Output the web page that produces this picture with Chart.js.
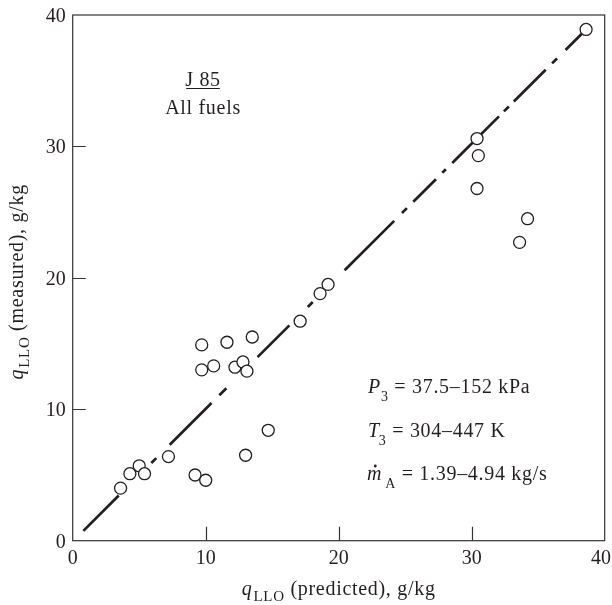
<!DOCTYPE html>
<html><head><meta charset="utf-8">
<script src="https://cdn.jsdelivr.net/npm/chart.js@4.4.1/dist/chart.umd.min.js"></script>
<style>html,body{margin:0;padding:0;background:#fff;}#wrap{width:612px;height:605px;}</style>
</head><body><div id="wrap"><canvas id="c" width="612" height="605"></canvas></div>
<script>
// ---- data ----
const predicted = [3.6, 4.3, 5.0, 5.4, 7.2, 9.2, 10.0, 13.0, 14.7, 9.7, 11.6, 13.5, 9.7, 10.6, 12.2, 12.8, 13.1, 17.1, 18.6, 19.2, 30.4, 30.5, 30.4, 34.2, 33.6, 38.6];
const measured  = [4.0, 5.1, 5.7, 5.1, 6.4, 5.0, 4.6, 6.5, 8.4, 14.9, 15.1, 15.5, 13.0, 13.3, 13.2, 13.6, 12.9, 16.7, 18.8, 19.5, 30.6, 29.3, 26.8, 24.5, 22.7, 38.9];
const parityX = [0.8, 38.6];
const parityY = [0.75, 38.9];
const xTicks = [0, 10, 20, 30, 40];
const yTicks = [0, 10, 20, 30, 40];

// style: irregular dash-dot rhythm of the parity line (on/off lengths, px)
const PARITY_DASH = [50, 46, 7, 19, 59, 11, 10, 44, 45, 26, 7, 45, 70, 11, 7, 9, 32, 9, 5, 9, 66, 7, 7, 7, 45, 9, 7, 12, 200, 10];

const INK = '#231f20';
const SERIF = '"Liberation Serif", "Times New Roman", serif';

function font(ctx, size, italic) {
  ctx.font = (italic ? 'italic ' : '') + size + 'px ' + SERIF;
}
function runWidth(ctx, parts, ls) {
  let w = 0;
  for (const p of parts) {
    font(ctx, p.s, p.i); ctx.letterSpacing = ls + 'px';
    w += ctx.measureText(p.t).width + (p.dx || 0);
  }
  return w;
}
function drawRuns(ctx, x, y, parts, ls) {
  let cx = x;
  const pos = [];
  for (const p of parts) {
    font(ctx, p.s, p.i); ctx.letterSpacing = ls + 'px';
    cx += (p.dx || 0);
    ctx.fillText(p.t, cx, y + (p.dy || 0));
    const w = ctx.measureText(p.t).width;
    pos.push([cx, w]);
    cx += w;
  }
  return pos;
}

const decor = {
  id: 'decor',
  beforeDatasetsDraw(chart) {
    const {ctx, chartArea: a, scales: {x, y}} = chart;
    ctx.save();
    ctx.strokeStyle = '#333';
    ctx.lineWidth = 1.2;
    ctx.strokeRect(a.left, a.top, a.right - a.left, a.bottom - a.top);
    ctx.beginPath();
    for (const v of xTicks) {
      if (v === x.min || v === x.max) continue;
      const px = Math.round(x.getPixelForValue(v)) + 0.5;
      ctx.moveTo(px, a.bottom); ctx.lineTo(px, a.bottom - 14);
    }
    for (const v of yTicks) {
      if (v === y.min || v === y.max) continue;
      const py = Math.round(y.getPixelForValue(v)) + 0.5;
      ctx.moveTo(a.left, py); ctx.lineTo(a.left + 13, py);
    }
    ctx.stroke();
    ctx.restore();
  },
  afterDatasetsDraw(chart) {
    const {ctx, chartArea: a, scales: {x, y}} = chart;
    ctx.save();
    ctx.fillStyle = INK;
    font(ctx, 20, false);
    ctx.letterSpacing = '0px';
    ctx.textBaseline = 'alphabetic';
    for (const v of xTicks) {
      const px = x.getPixelForValue(v);
      const t = String(v);
      const w = ctx.measureText(t).width;
      let left = px - w / 2;
      if (left + w > chart.width - 1) left = chart.width - 1 - w;
      ctx.textAlign = 'left';
      ctx.fillText(t, left, a.bottom + 23);
    }
    ctx.textAlign = 'right';
    for (const v of yTicks) {
      const py = y.getPixelForValue(v);
      ctx.fillText(String(v), a.left - 7, py + 7);
    }
    ctx.textAlign = 'left';
    const LS = 0.7;
    const xt = [
      {t: 'q', s: 20, i: true},
      {t: 'LLO', s: 15, dy: 6, dx: 1},
      {t: ' (predicted), g/kg', s: 20}
    ];
    const xw = runWidth(ctx, xt, LS);
    drawRuns(ctx, (a.left + a.right) / 2 - xw / 2, 595, xt, LS);
    const yt = [
      {t: 'q', s: 20, i: true},
      {t: 'LLO', s: 15, dy: 6, dx: 1},
      {t: ' (measured), g/kg', s: 20}
    ];
    const yw = runWidth(ctx, yt, LS);
    ctx.save();
    ctx.translate(23, (a.top + a.bottom) / 2 + 4);
    ctx.rotate(-Math.PI / 2);
    drawRuns(ctx, -yw / 2, 0, yt, LS);
    ctx.restore();
    font(ctx, 20, false); ctx.letterSpacing = LS + 'px';
    ctx.textAlign = 'center';
    const jw = ctx.measureText('J 85').width;
    ctx.fillText('J 85', 203, 86);
    ctx.fillText('All fuels', 203, 114);
    ctx.lineWidth = 1; ctx.strokeStyle = INK;
    ctx.beginPath();
    ctx.moveTo(203 - jw / 2 + 1, 88.5); ctx.lineTo(203 + jw / 2 - 1, 88.5);
    ctx.stroke();
    ctx.textAlign = 'left';
    drawRuns(ctx, 368, 393, [
      {t: 'P', s: 20, i: true},
      {t: '3', s: 14, dy: 8, dx: 0},
      {t: ' = 37.5\u2013152 kPa', s: 20}
    ], LS);
    drawRuns(ctx, 368, 437, [
      {t: 'T', s: 20, i: true},
      {t: '3', s: 14, dy: 8, dx: -1},
      {t: ' = 304\u2013447 K', s: 20}
    ], LS);
    const mp = drawRuns(ctx, 367, 480, [
      {t: 'm', s: 20, i: true},
      {t: 'A', s: 14, dy: 8, dx: 3},
      {t: ' = 1.39\u20134.94 kg/s', s: 20}
    ], LS);
    ctx.beginPath();
    ctx.arc(mp[0][0] + mp[0][1] * 0.55, 480 - 14, 1.4, 0, Math.PI * 2);
    ctx.fill();
    ctx.restore();
  }
};

const points = predicted.map((v, i) => ({x: v, y: measured[i]}));
const parity = parityX.map((v, i) => ({x: v, y: parityY[i]}));

new Chart(document.getElementById('c'), {
  type: 'scatter',
  data: {
    datasets: [
      {
        data: points,
        order: 0,
        pointRadius: 6,
        pointHoverRadius: 6,
        pointBackgroundColor: '#ffffff',
        pointBorderColor: INK,
        pointBorderWidth: 1.3,
        showLine: false
      },
      {
        type: 'line',
        data: parity,
        order: 1,
        showLine: true,
        pointRadius: 0,
        borderColor: INK,
        borderWidth: 2.7,
        borderDash: PARITY_DASH,
        borderCapStyle: 'butt',
        fill: false,
        tension: 0
      }
    ]
  },
  options: {
    responsive: false,
    animation: false,
    events: [],
    layout: {padding: {top: 15, right: 5, left: 0, bottom: 0}},
    plugins: {legend: {display: false}, tooltip: {enabled: false}},
    scales: {
      x: {
        type: 'linear', min: 0, max: 40,
        ticks: {display: false, stepSize: 10},
        grid: {display: false},
        border: {display: false},
        afterFit(s) { s.height = 64.3; }
      },
      y: {
        type: 'linear', min: 0, max: 40,
        ticks: {display: false, stepSize: 10},
        grid: {display: false},
        border: {display: false},
        afterFit(s) { s.width = 72.7; }
      }
    }
  },
  plugins: [decor]
});
</script></body></html>
